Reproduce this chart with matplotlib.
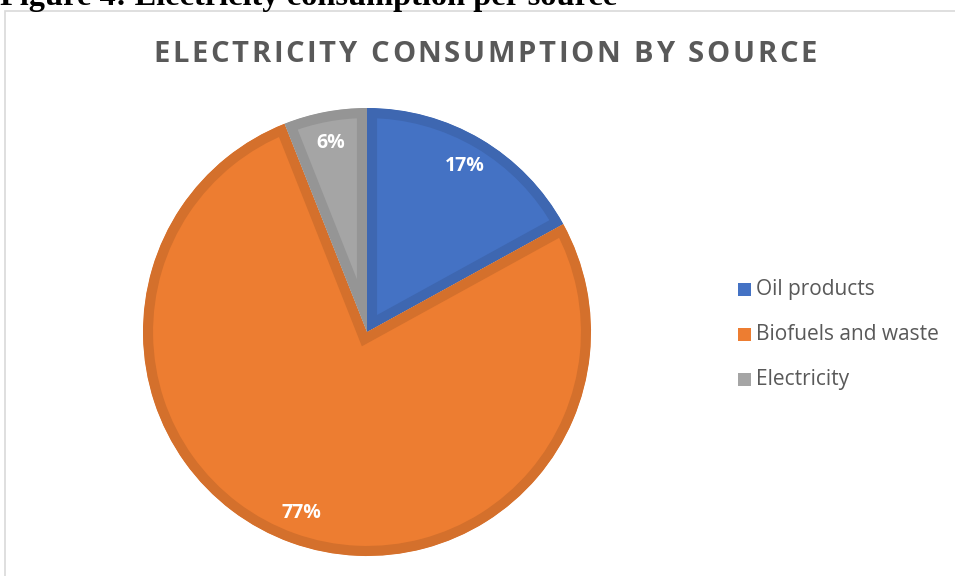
import matplotlib.pyplot as plt
from matplotlib.patches import Rectangle

# data
sources = ["Oil products", "Biofuels and waste", "Electricity"]
shares = [17, 77, 6]
colors = ["#4472C4", "#ED7D31", "#A5A5A5"]
edge_colors = ["#3E67B1", "#D4702C", "#959595"]

title = "ELECTRICITY CONSUMPTION BY SOURCE"
caption = "Figure 4: Electricity consumption per source"

W, H = 955, 576
fig = plt.figure(figsize=(W / 100, H / 100), dpi=100)
renderer = fig.canvas.get_renderer()

# chart frame (light gray border like an Office chart area)
fig.patches.append(Rectangle((5 / W, -0.01), 1.0, 1 - 11 / H + 0.01,
                             transform=fig.transFigure, fill=False,
                             edgecolor="#D9D9D9", linewidth=1.2))

# caption, cut off at the top of the picture
fig.text(0.0, 1 - 5 / H, caption, family="Liberation Serif", fontweight="bold",
         fontsize=23.3, color="black", va="baseline", ha="left")

# title with extra letter spacing (as in Office charts)
title_kw = dict(family="Open Sans", fontweight="bold", fontsize=21,
                color="#595959", va="center", ha="left")
spacing = 2.6  # px between letters
widths = []
for ch in title:
    t = fig.text(0, 0, ch if ch != " " else "n", **title_kw)
    wpx = t.get_window_extent(renderer).width
    if ch == " ":
        wpx *= 0.45
    widths.append(wpx)
    t.remove()
total = sum(widths) + spacing * (len(title) - 1)
x = 485 - total / 2
for ch, wpx in zip(title, widths):
    if ch != " ":
        fig.text(x / W, 1 - 55 / H, ch, **title_kw)
    x += wpx + spacing

# pie axes: center at (367, 332) px, radius 224 px
cx, cy, r = 367, 332, 224
half = 240
ax = fig.add_axes([(cx - half) / W, (H - cy - half) / H, 2 * half / W, 2 * half / H])
wedges, texts, autotexts = ax.pie(shares, colors=colors, startangle=90, counterclock=False,
                                  radius=1.0, autopct="%.0f%%", pctdistance=0.86,
                                  textprops=dict(color="white", fontweight="bold",
                                                 fontsize=14, family="Open Sans"))
lim = half / r
ax.set_xlim(-lim, lim)
ax.set_ylim(-lim, lim)
ax.set_aspect("equal")
ax.axis("off")

# inner darker stroke on each slice (stroke clipped to the slice itself)
for w, ec in zip(wedges, edge_colors):
    w.set_edgecolor(ec)
    w.set_linewidth(14.5)
    w.set_clip_on(True)
    w.set_clip_path(w)

# legend, drawn by hand to match the Office layout
for i, (name, c) in enumerate(zip(sources, colors)):
    yc = 289.5 + 45 * i
    fig.patches.append(Rectangle((738 / W, 1 - (yc + 6.5) / H), 13 / W, 13 / H,
                                 transform=fig.transFigure, facecolor=c, edgecolor="none"))
    fig.text(756 / W, 1 - yc / H, name, family="Open Sans", fontsize=15,
             color="#595959", va="center", ha="left")

fig.savefig("out.png", dpi=100)
